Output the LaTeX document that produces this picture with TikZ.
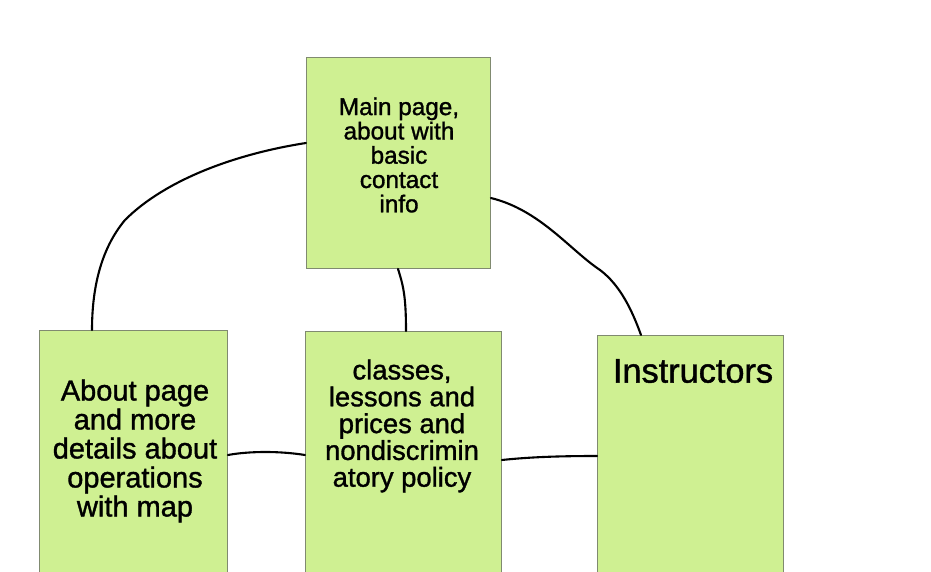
\documentclass[tikz,border=0pt]{standalone}
\usepackage{fontspec}
\setmainfont{Liberation Sans}[FakeBold=1.2]
\definecolor{boxGreen}{RGB}{207,240,146}
\definecolor{boxEdge}{RGB}{128,138,112}
\begin{document}
\begin{tikzpicture}[x=1pt, y=-1pt, boxStyle/.style={rectangle, draw=boxEdge, fill=boxGreen, line width=0.9pt, anchor=north west, inner sep=0pt}, textStyle/.style={align=center, inner sep=0pt}, linkStyle/.style={line width=2.1pt, line cap=round}]
                    \clip (0,0) rectangle (931,572);
                    \fill[white] (0,0) rectangle (931,572);

                    \node[boxStyle, minimum width=184pt, minimum height=211pt](main)  at (306, 57) {};
                    \node[boxStyle, minimum width=188pt, minimum height=260pt](about) at ( 39,330) {};
                    \node[boxStyle, minimum width=196pt, minimum height=260pt](mid)   at (305,331) {};
                    \node[boxStyle, minimum width=186pt, minimum height=260pt](instr) at (597,335) {};

                    \node[textStyle, font=\fontsize{24.3}{24.3}\selectfont](mainText) at (399,155) {Main page,\\about with\\basic\\contact\\info};
                    \node[textStyle, font=\fontsize{29}{29}\selectfont](aboutText)    at (135,451) {About page\\and more\\details about\\operations\\with map};
                    \node[textStyle, font=\fontsize{27.4}{26.8}\selectfont](midText)  at (402,426) {classes,\\lessons and\\prices and\\nondiscrimin\\atory policy};
                    \node[textStyle, font=\fontsize{34.3}{34}\selectfont](instrText)  at (693,371) {Instructors};

                    \draw[linkStyle] (main.west |- 0,143) .. controls (235,154) and (165,180) .. (125,220) .. controls (100,250) and (92,290) .. (about.north -| 92,0);
                    \draw[linkStyle] (main.east |- 0,198) .. controls (540,210) and (570,250) .. (600,270) .. controls (620,285) and (632,310) .. (instr.north -| 641,0);
                    \draw[linkStyle] (main.south -| 398,0) .. controls (403,285) and (406,295) .. (mid.north -| 406,0);
                    \draw[linkStyle] (about.east |- 0,455) .. controls (250,451) and (280,451) .. (mid.west |- 0,455);
                    \draw[linkStyle] (mid.east |- 0,460) .. controls (530,457) and (560,456) .. (instr.west |- 0,456);
                \end{tikzpicture}
\end{document}
